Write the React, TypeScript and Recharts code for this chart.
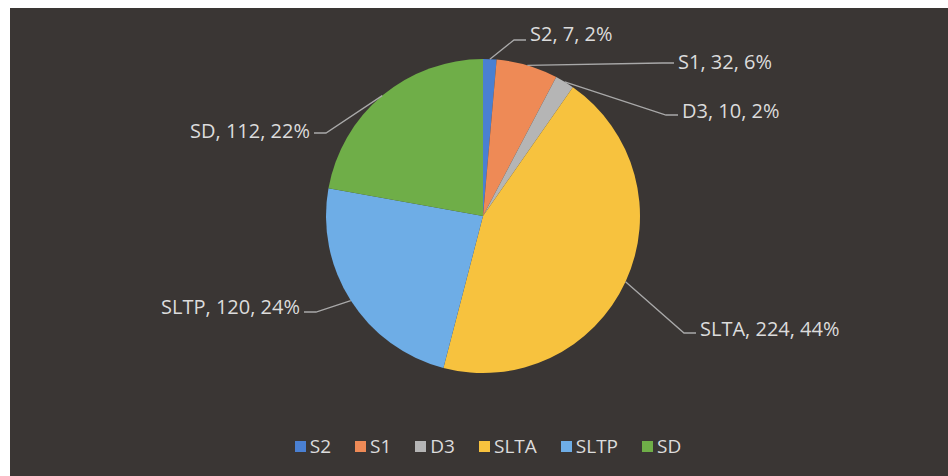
import { PieChart, Pie, Cell } from 'recharts';

const categories = ['S2', 'S1', 'D3', 'SLTA', 'SLTP', 'SD'];
const values = [7, 32, 10, 224, 120, 112];
const percentLabels = ['2%', '6%', '2%', '44%', '24%', '22%'];
const colors = ['#4a80d2', '#ee8a56', '#b5b5b5', '#f7c23e', '#6eade6', '#6fae48'];

const data = categories.map((name, i) => ({ name, value: values[i] }));

const BG = '#3a3634';
const TEXT = '#dcdcdc';
const LINE = '#a9a9a9';
const FONT = '"Open Sans", "Noto Sans", sans-serif';
const RADIAN = Math.PI / 180;

// where each data label sits (text x, line y, baseline y) and which side
const labelPos = [
  { x: 520, ly: 32, ty: 33, side: 1 },
  { x: 668, ly: 55, ty: 61, side: 1 },
  { x: 672, ly: 107, ty: 110, side: 1 },
  { x: 690, ly: 325, ty: 328, side: 1 },
  { x: 290, ly: 304, ty: 306, side: -1 },
  { x: 300, ly: 125, ty: 130, side: -1 },
];

function renderLabel(props: any) {
  const { cx, cy, midAngle, outerRadius, index } = props;
  const ex = cx + outerRadius * Math.cos(-midAngle * RADIAN);
  const ey = cy + outerRadius * Math.sin(-midAngle * RADIAN);
  const p = labelPos[index];
  const bx = p.x - p.side * 16;
  const tx = p.x - p.side * 4;
  return (
    <g key={`lbl-${index}`}>
      <polyline
        points={`${ex},${ey} ${bx},${p.ly} ${tx},${p.ly}`}
        fill="none"
        stroke={LINE}
        strokeWidth={1.3}
      />
      <text
        x={p.x}
        y={p.ty}
        textAnchor={p.side > 0 ? 'start' : 'end'}
        fill={TEXT}
        fontSize={20}
        fontFamily={FONT}
      >
        {`${categories[index]}, ${values[index]}, ${percentLabels[index]}`}
      </text>
    </g>
  );
}

function LegendRow() {
  return (
    <div
      style={{
        position: 'absolute',
        top: 425,
        left: 0,
        width: 938,
        display: 'flex',
        justifyContent: 'center',
        paddingLeft: 42,
        boxSizing: 'border-box',
        fontFamily: FONT,
        fontSize: 19,
        color: TEXT,
      }}
    >
      {categories.map((c, i) => (
        <div key={c} style={{ display: 'flex', alignItems: 'center', marginRight: 24 }}>
          <span
            style={{
              display: 'inline-block',
              width: 11,
              height: 11,
              background: colors[i],
              marginRight: 4,
            }}
          />
          <span>{c}</span>
        </div>
      ))}
    </div>
  );
}

export default function App() {
  return (
    <div
      style={{
        position: 'absolute',
        left: 10,
        top: 8,
        width: 938,
        height: 468,
        background: BG,
        overflow: 'hidden',
      }}
    >
      <PieChart width={938} height={468} margin={{ top: 0, right: 0, bottom: 0, left: 0 }}>
        <Pie
          data={data}
          dataKey="value"
          nameKey="name"
          cx={473}
          cy={208}
          outerRadius={157}
          startAngle={90}
          endAngle={-270}
          stroke="none"
          label={renderLabel}
          labelLine={false}
          isAnimationActive={false}
        >
          {data.map((entry, i) => (
            <Cell key={`cell-${entry.name}`} fill={colors[i]} />
          ))}
        </Pie>
      </PieChart>
      <LegendRow />
    </div>
  );
}
